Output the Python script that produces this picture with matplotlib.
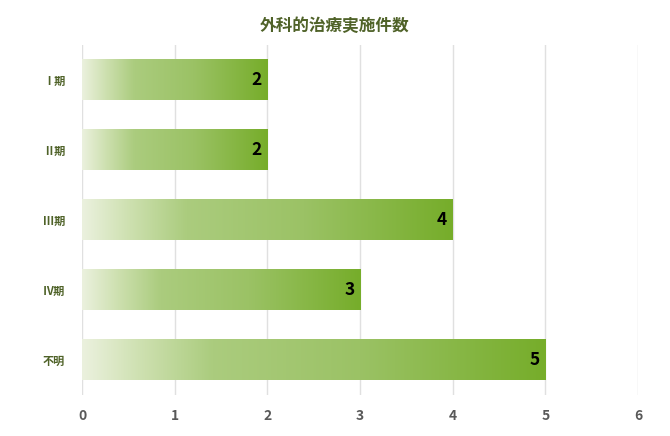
import matplotlib.pyplot as plt
import numpy as np
from matplotlib.colors import LinearSegmentedColormap

plt.rcParams['font.family'] = ['Noto Sans CJK JP', 'DejaVu Sans']

categories = ['Ⅰ期', 'Ⅱ期', 'Ⅲ期', 'Ⅳ期', '不明']
counts = [2, 2, 4, 3, 5]
title = '外科的治療実施件数'

green = LinearSegmentedColormap.from_list(
    'bar_green',
    [(0.0, '#ebf1de'), (0.12, '#cfe1b2'), (0.28, '#abcc7e'),
     (0.6, '#9bc265'), (1.0, '#76ad2a')])

fig = plt.figure(figsize=(6.7, 4.36), dpi=100)
ax = fig.add_axes([0.1224, 0.094, 0.8299, 0.8028])

bar_h = 0.58
ypos = np.arange(len(categories))
grad = np.linspace(0, 1, 256).reshape(1, -1)
for y, v in zip(ypos, counts):
    ax.imshow(grad, cmap=green, aspect='auto', interpolation='bicubic',
              extent=[0, v, y + bar_h / 2, y - bar_h / 2], zorder=2)
    ax.text(v - 0.06, y, str(v), ha='right', va='center', fontsize=12.5,
            fontweight='bold', color='black', zorder=3)

ax.set_xlim(0, 6)
ax.set_ylim(len(categories) - 0.5, -0.5)
ax.set_xticks(range(7))
ax.set_yticks(ypos)
ax.set_yticklabels(categories, fontsize=8, fontweight='bold', color='#4f6228')
for lbl in ax.get_xticklabels():
    lbl.set_fontsize(10)
    lbl.set_fontweight('bold')
    lbl.set_color('#595959')
ax.tick_params(axis='both', length=0)
ax.tick_params(axis='y', pad=12)
ax.tick_params(axis='x', pad=10)
ax.grid(axis='x', color='#e0e0e0', linewidth=1, zorder=0)
ax.set_axisbelow(True)
for s in ax.spines.values():
    s.set_visible(False)

fig.text(0.5, 0.94, title, ha='center', va='center', fontsize=12,
         fontweight='bold', color='#4f6228')

fig.savefig('out.png', dpi=100)
